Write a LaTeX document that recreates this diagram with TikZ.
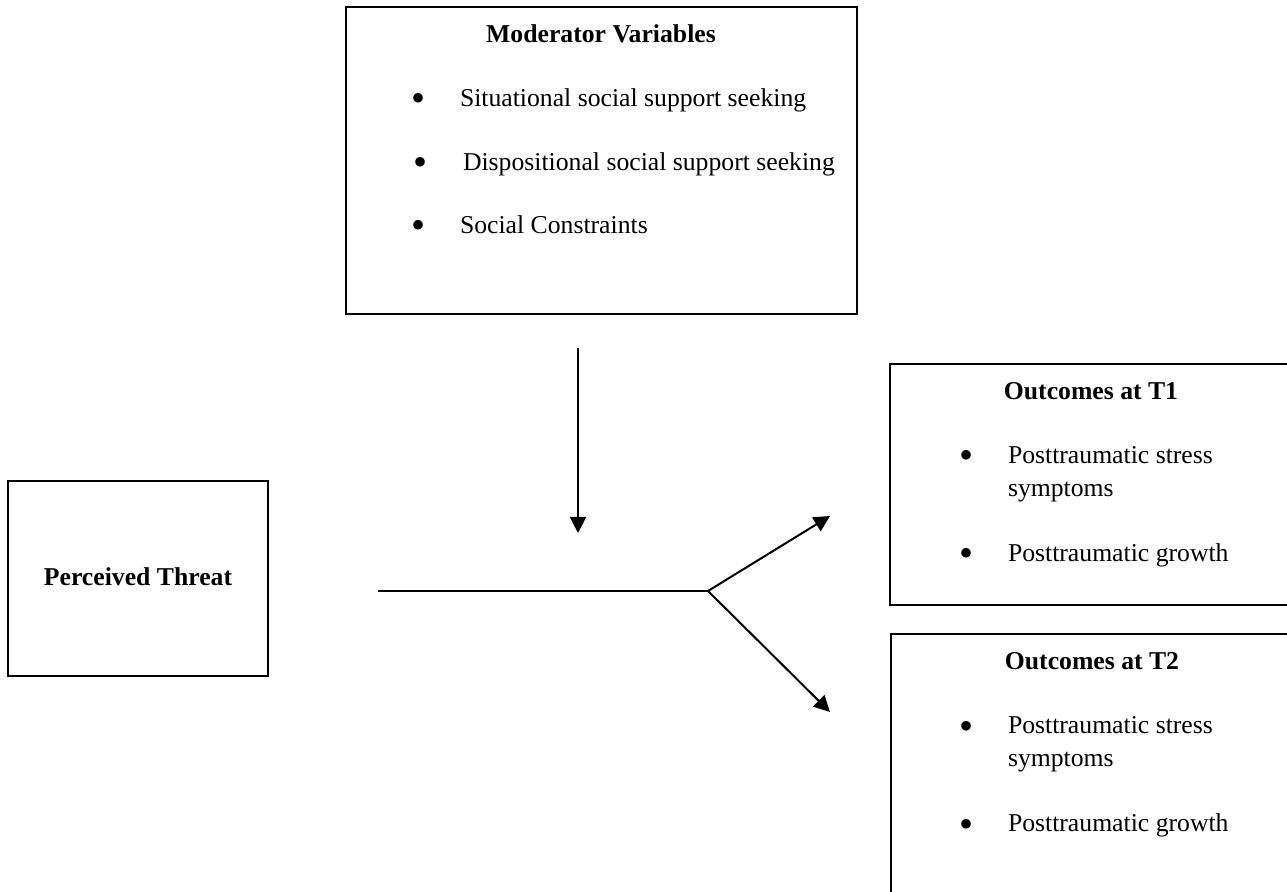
\documentclass[tikz,border=0pt]{standalone}
\usepackage{fontspec}
\setmainfont{Liberation Serif}
\usetikzlibrary{arrows.meta}
\begin{document}
\begin{tikzpicture}[x=0.5pt,y=-0.5pt,line width=1pt,
  box/.style={draw,line width=1.2pt,inner sep=0pt},
  txt/.style={anchor=base west,inner sep=0pt,font=\fontsize{12.85}{16}\selectfont},
  ttl/.style={anchor=base,inner sep=0pt,font=\fontsize{12.85}{16}\selectfont\bfseries},
  bul/.style={anchor=center,inner sep=0pt,yshift=-2.5pt,font=\fontsize{20}{20}\selectfont},
  arr/.style={-{Triangle[length=8pt,width=8pt]}}]
\clip (0,0) rectangle (1287,892);
% boxes
\node[box,minimum width=255.5pt,minimum height=153.5pt] (mod) at (601.5,160.5) {};
\node[box,minimum width=130pt,minimum height=97.5pt] (perc) at (138,578.5) {};
\node[box,minimum width=201pt,minimum height=120.5pt] (out1) at (1091,484.5) {};
\node[box,minimum width=200.5pt,minimum height=133pt] (out2) at (1091.5,767) {};
% moderator texts
\node[ttl] (modt) at (601,43) {Moderator Variables};
\node[bul] (mb1) at (418,98) {\textbullet};
\node[txt] (m1) at (459,106.5) {Situational social support seeking};
\node[bul] (mb2) at (420,162) {\textbullet};
\node[txt] (m2) at (462,170.5) {Dispositional social support seeking};
\node[bul] (mb3) at (418,225) {\textbullet};
\node[txt] (m3) at (459,233.5) {Social Constraints};
% perceived threat
\node[ttl] (perct) at (138,586) {Perceived Threat};
% outcomes T1
\node[ttl] (o1t) at (1091,400) {Outcomes at T1};
\node[bul] (o1b1) at (966,455) {\textbullet};
\node[txt] (o1a) at (1007,463.5) {Posttraumatic stress};
\node[txt] (o1b) at (1007,496.5) {symptoms};
\node[bul] (o1b2) at (966,553) {\textbullet};
\node[txt] (o1c) at (1007,561.5) {Posttraumatic growth};
% outcomes T2
\node[ttl] (o2t) at (1092,670) {Outcomes at T2};
\node[bul] (o2b1) at (966,725) {\textbullet};
\node[txt] (o2a) at (1007,733.5) {Posttraumatic stress};
\node[txt] (o2b) at (1007,766.5) {symptoms};
\node[bul] (o2b2) at (966,823) {\textbullet};
\node[txt] (o2c) at (1007,831.5) {Posttraumatic growth};
% connectors
\coordinate (vtop) at (578,348);
\coordinate (vend) at (578,533);
\coordinate (hstart) at (378,591);
\coordinate (branch) at (708,591);
\coordinate (upend) at (830,516);
\coordinate (downend) at (830,712);
\draw[arr] (vtop) -- (vend);
\draw (hstart) -- (branch);
\draw[arr] (branch) -- (upend);
\draw[arr] (branch) -- (downend);
\end{tikzpicture}
\end{document}
